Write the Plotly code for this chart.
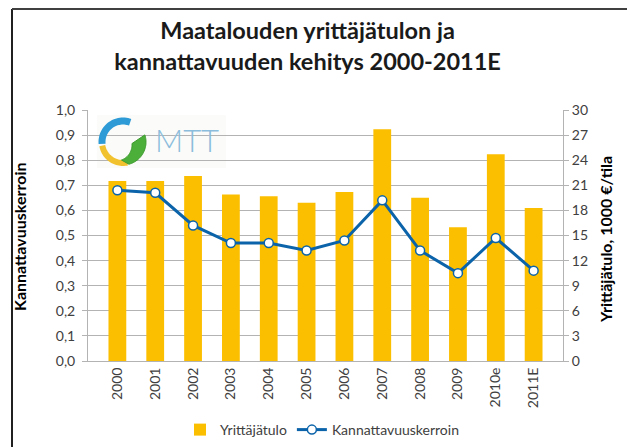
import numpy as np
import plotly.graph_objects as go

categories = ["2000", "2001", "2002", "2003", "2004", "2005", "2006", "2007",
              "2008", "2009", "2010e", "2011E"]
yrittajatulo = [21.5, 21.5, 22.1, 19.9, 19.7, 18.9, 20.2, 27.7, 19.5, 16.0, 24.7, 18.3]
kannattavuus = [0.68, 0.67, 0.54, 0.47, 0.47, 0.44, 0.48, 0.64, 0.44, 0.35, 0.49, 0.36]
left_ticks = [round(0.1 * i, 1) for i in range(11)]
right_ticks = list(range(0, 31, 3))

W, H = 627, 447
L, R, T, B = 88, 563, 110, 361
FONT = "Lato"
TXT = "#404040"
GRID = "#B3B3B3"


def px(x):
    return (x - L) / (R - L)


def py(y):
    return (B - y) / (B - T)


def path_from(points, close=False):
    s = "M " + " L ".join(f"{px(x):.4f},{py(y):.4f}" for x, y in points)
    return s + (" Z" if close else "")


fig = go.Figure()
fig.add_trace(go.Bar(
    x=categories, y=yrittajatulo, name="Yrittäjätulo",
    marker=dict(color="#FCBF00", line=dict(width=0)),
    yaxis="y", width=0.47,
))
fig.add_trace(go.Scatter(
    x=categories, y=kannattavuus, name="Kannattavuuskerroin",
    mode="lines+markers", yaxis="y2",
    line=dict(color="#0B63A9", width=3),
    marker=dict(size=9, color="white", line=dict(color="#0B63A9", width=1.5)),
))

shapes = []
# outer frame (left and top edges visible)
shapes.append(dict(type="line", xref="paper", yref="paper",
                   x0=px(12), x1=px(12), y0=py(9), y1=py(460),
                   line=dict(color="#202020", width=2)))
shapes.append(dict(type="line", xref="paper", yref="paper",
                   x0=px(12), x1=px(640), y0=py(9), y1=py(9),
                   line=dict(color="#404040", width=2)))
# logo background
shapes.append(dict(type="rect", xref="paper", yref="paper", layer="between",
                   x0=px(97), x1=px(226), y0=py(115), y1=py(168),
                   fillcolor="rgba(250,250,248,0.8)", line=dict(width=0)))
# logo arcs
cx, cy, rr = 123, 142, 21


def arc(a0, a1, r):
    a = np.radians(np.linspace(a0, a1, 30))
    return [(cx + r * np.cos(t), cy - r * np.sin(t)) for t in a]


shapes.append(dict(type="path", xref="paper", yref="paper", layer="above",
                   path=path_from(arc(70, 185, rr)),
                   line=dict(color="#2E9BD6", width=7)))
shapes.append(dict(type="path", xref="paper", yref="paper", layer="above",
                   path=path_from(arc(190, 282, rr)),
                   line=dict(color="#F2C12E", width=6)))
leaf = arc(285, 378, rr + 2) + [(p[0] - 7, p[1] + 3) for p in arc(365, 290, rr - 5)]
shapes.append(dict(type="path", xref="paper", yref="paper", layer="above",
                   path=path_from(leaf, close=True),
                   fillcolor="#4CAF3A", line=dict(color="#3E9B2F", width=1)))

annotations = [
    dict(text="MTT", xref="paper", yref="paper", x=px(187), y=py(140),
         xanchor="center", yanchor="middle",
         showarrow=False, font=dict(family=FONT, size=31, color="#8CBDDC", weight=300)),
    dict(text="Kannattavuuskerroin", xref="paper", yref="paper", x=px(19), y=py(237),
         xanchor="center", yanchor="middle",
         textangle=-90, showarrow=False,
         font=dict(family=FONT, size=16, color="#000000", weight="bold")),
    dict(text="Yrittäjätulo, 1000 €/tila", xref="paper", yref="paper", x=px(605), y=py(240),
         xanchor="center", yanchor="middle",
         textangle=-90, showarrow=False,
         font=dict(family=FONT, size=16, color="#000000", weight="bold")),
]

fig.update_layout(
    width=W, height=H,
    margin=dict(l=L, r=W - R, t=T, b=H - B, autoexpand=False),
    paper_bgcolor="white", plot_bgcolor="white",
    separators=", ",
    title=dict(text="Maatalouden yrittäjätulon ja<br>kannattavuuden kehitys 2000-2011E",
               x=px(321), xanchor="center", y=1 - 39 / H, yanchor="middle",
               font=dict(family=FONT, size=23.5, color="#1a1a1a", weight="bold")),
    xaxis=dict(type="category", tickangle=-90, showgrid=False, automargin=False,
               showline=True, linecolor=GRID, linewidth=1,
               tickfont=dict(family=FONT, size=14, color=TXT), ticks="", ticklen=0),
    yaxis=dict(side="right", range=[0, 30], tickvals=right_ticks, automargin=False,
               showgrid=True, gridcolor=GRID, gridwidth=1,
               showline=True, linecolor=GRID, ticks="outside", ticklen=5, tickcolor=GRID,
               tickfont=dict(family=FONT, size=14, color=TXT), zeroline=False),
    yaxis2=dict(side="left", overlaying="y", range=[0, 1.0], tickvals=left_ticks,
                tickformat=".1f", showgrid=False, automargin=False,
                showline=True, linecolor=GRID, ticks="outside", ticklen=5, tickcolor=GRID,
                ticklabelstandoff=4,
                tickfont=dict(family=FONT, size=14, color=TXT), zeroline=False),
    legend=dict(orientation="h", x=px(322), xanchor="center", y=py(430), yanchor="middle",
                font=dict(family=FONT, size=14, color=TXT), itemwidth=30,
                traceorder="normal"),
    shapes=shapes,
    annotations=annotations,
    bargap=0.53,
)

fig.write_html("out.html", config={"displayModeBar": False},
               post_script="document.body.style.margin='0';")
